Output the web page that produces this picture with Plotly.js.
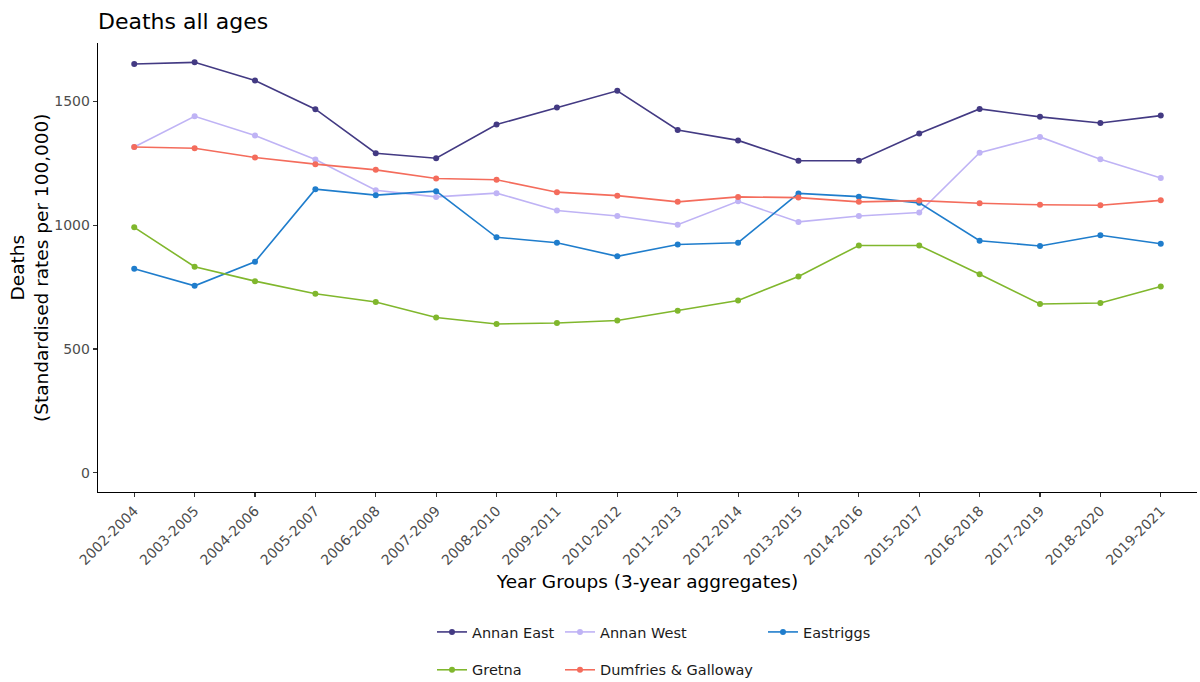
<!DOCTYPE html>
<html>
<head>
<meta charset="utf-8">
<script src="https://cdn.plot.ly/plotly-3.0.1.min.js"></script>
<style>html,body{margin:0;padding:0;background:#fff}#chart{width:1200px;height:682px}</style>
</head>
<body>
<div id="chart"></div>
<script>
const yearGroups = ["2002-2004","2003-2005","2004-2006","2005-2007","2006-2008","2007-2009","2008-2010","2009-2011","2010-2012","2011-2013","2012-2014","2013-2015","2014-2016","2015-2017","2016-2018","2017-2019","2018-2020","2019-2021"];
const annanEast = [1650,1657,1584,1468,1290,1270,1406,1475,1542,1384,1342,1260,1260,1370,1469,1437,1412,1442];
const annanWest = [1315,1439,1362,1265,1141,1114,1129,1059,1037,1002,1096,1013,1037,1051,1292,1356,1266,1190];
const eastriggs = [824,755,852,1145,1121,1137,951,929,874,922,929,1128,1115,1090,937,916,959,925];
const gretna = [991,832,774,723,690,627,601,605,615,654,696,793,918,918,802,682,686,752];
const dumfriesGalloway = [1315,1310,1273,1246,1223,1188,1183,1133,1119,1094,1114,1111,1094,1099,1088,1082,1080,1100];

const seriesNames = ["Annan East","Annan West","Eastriggs","Gretna","Dumfries & Galloway"];
const seriesData = [annanEast, annanWest, eastriggs, gretna, dumfriesGalloway];
const seriesColors = ["#433a83","#bfb3f5","#1f7dcc","#80b72d","#f46c5c"];
const seriesLegend = ["legend","legend2","legend3","legend","legend2"];

const traces = seriesNames.map((n,i)=>({
  type:"scatter", mode:"lines+markers", name:n,
  x: yearGroups, y: seriesData[i],
  line:{color:seriesColors[i], width:1.6},
  marker:{color:seriesColors[i], size:6},
  legend: seriesLegend[i], legendgroup: n
}));

const fontFam = "DejaVu Sans, sans-serif";
const legBase = {
  orientation:"v", xref:"container", yref:"container", yanchor:"top", xanchor:"left",
  traceorder:"grouped", tracegroupgap:16, font:{family:fontFam,size:14.5,color:"#1a1a1a"},
  bgcolor:"rgba(0,0,0,0)", itemclick:false
};

const layout = {
  width:1200, height:682,
  margin:{l:98, r:3, t:43, b:190, autoexpand:false},
  paper_bgcolor:"#fff", plot_bgcolor:"#fff",
  font:{family:fontFam, color:"#1a1a1a"},
  showlegend:true,
  title:{text:"Deaths all ages", x:98/1200, xanchor:"left", xref:"container", y:1-21/682, yanchor:"middle", font:{family:fontFam,size:22,color:"#000"}},
  xaxis:{
    type:"category", range:[-0.6,17.6], showgrid:false, zeroline:false,
    showline:true, linecolor:"#000", linewidth:1.3,
    ticks:"outside", ticklen:4, tickcolor:"#333", tickwidth:1.1,
    tickangle:-45, tickfont:{family:fontFam,size:14,color:"#4d4d4d"},
    title:{text:"Year Groups (3-year aggregates)", font:{family:fontFam,size:18.5,color:"#000"}, standoff:8},
    automargin:true
  },
  yaxis:{
    range:[-77,1735], showgrid:false, zeroline:false,
    showline:true, linecolor:"#000", linewidth:1.3,
    ticks:"outside", ticklen:4, tickcolor:"#333", tickwidth:1.1,
    tickvals:[0,500,1000,1500], ticktext:["0","500","1000","1500"],
    tickfont:{family:fontFam,size:14,color:"#4d4d4d"},
    automargin:false
  },
  annotations:[{
    text:"Deaths<br>(Standardised rates per 100,000)", textangle:-90,
    xref:"paper", yref:"paper", x:(29-98)/1099, y:1-(268-43)/449,
    xanchor:"center", yanchor:"middle", showarrow:false, align:"center",
    font:{family:fontFam,size:18.5,color:"#000"}
  }],
  legend: Object.assign({}, legBase, {x:432/1200, y:1-616/682}),
  legend2: Object.assign({}, legBase, {x:560/1200, y:1-616/682}),
  legend3: Object.assign({}, legBase, {x:763/1200, y:1-616/682})
};

Plotly.newPlot("chart", traces, layout, {displayModeBar:false, staticPlot:true});
</script>
</body>
</html>
